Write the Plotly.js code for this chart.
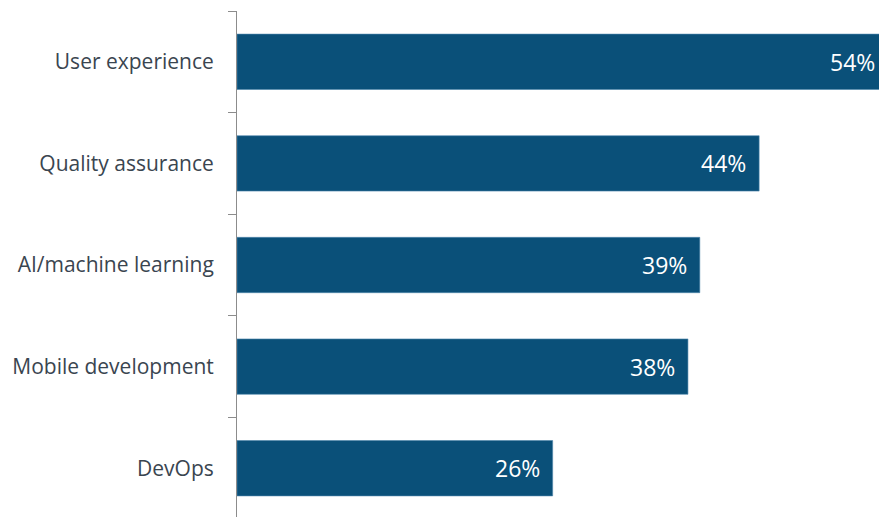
<!DOCTYPE html>
<html>
<head>
<meta charset="utf-8">
<script src="https://cdn.plot.ly/plotly-3.0.1.min.js"></script>
<style>html,body{margin:0;padding:0;background:#fff;}#chart{width:879px;height:517px;}</style>
</head>
<body>
<div id="chart"></div>
<script>
const categories = ["User experience", "Quality assurance", "AI/machine learning", "Mobile development", "DevOps"];
const values = [54.7, 44, 39, 38, 26.6];
const valueLabels = ["54%", "44%", "39%", "38%", "26%"];

const trace = {
  type: "bar",
  orientation: "h",
  y: categories,
  x: values,
  marker: {color: "#0a5079", line: {color: "#4f86ad", width: 0.6}},
  hoverinfo: "skip",
  cliponaxis: true
};

const annotations = categories.map((c, i) => ({
  x: Math.min(values[i], 54.1),
  y: c,
  xref: "x",
  yref: "y",
  text: valueLabels[i],
  showarrow: false,
  xanchor: "right",
  yanchor: "middle",
  xshift: values[i] > 54.1 ? -2 : -11,
  font: {family: "Open Sans, sans-serif", size: 23, color: "#ffffff"}
}));

const layout = {
  width: 879,
  height: 517,
  margin: {l: 237, r: 0, t: 11, b: 0, pad: 0},
  paper_bgcolor: "#ffffff",
  plot_bgcolor: "#ffffff",
  showlegend: false,
  bargap: 0.455,
  annotations: annotations,
  xaxis: {
    range: [0, 54.1],
    visible: false,
    fixedrange: true
  },
  yaxis: {
    type: "category",
    categoryorder: "array",
    categoryarray: categories,
    range: [4.48, -0.5],
    showline: true,
    linecolor: "#8c8c8c",
    linewidth: 1,
    ticks: "outside",
    tickson: "boundaries",
    ticklen: 8,
    tickcolor: "#8c8c8c",
    tickwidth: 1,
    ticklabelstandoff: 18,
    showgrid: false,
    zeroline: false,
    tickfont: {family: "Open Sans, sans-serif", size: 21, color: "#3a4550"},
    fixedrange: true
  }
};

Plotly.newPlot("chart", [trace], layout, {displayModeBar: false, staticPlot: true});
</script>
</body>
</html>
